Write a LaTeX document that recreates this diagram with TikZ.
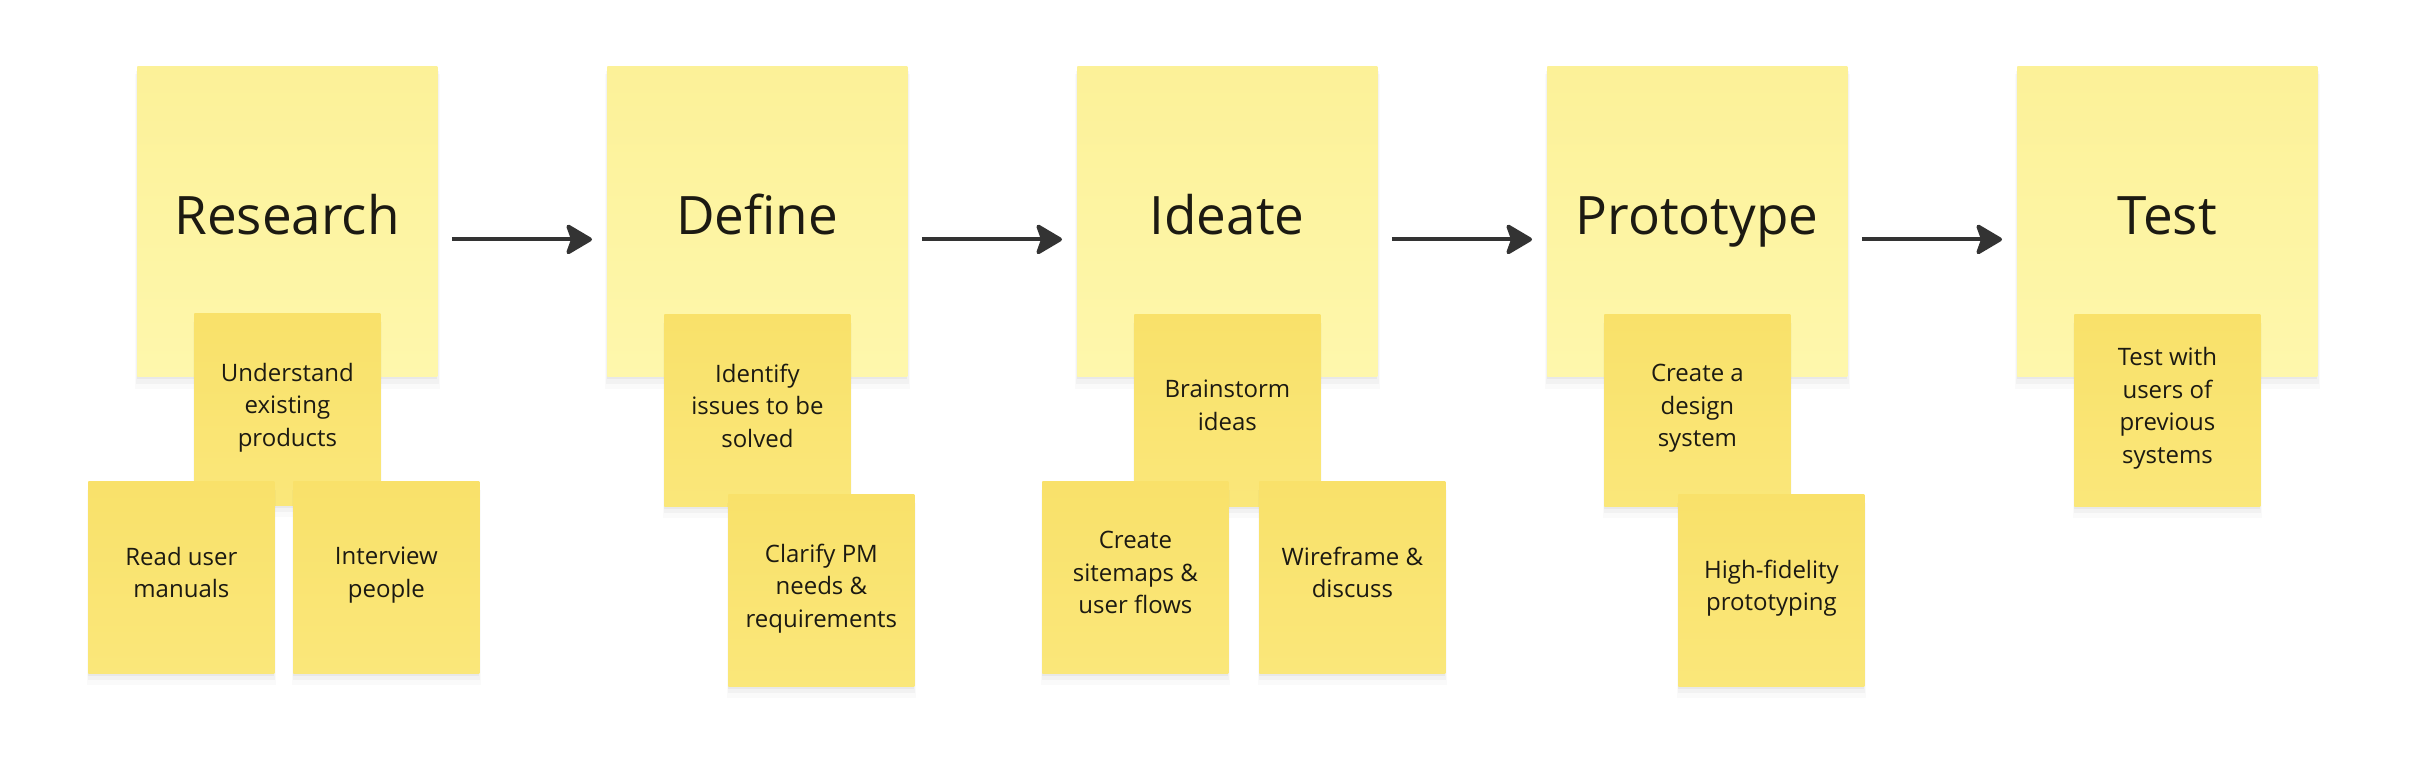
\documentclass[tikz,border=0pt]{standalone}
\usepackage{fontspec}
\setmainfont{Open Sans}
\usetikzlibrary{arrows.meta,shadows}
\definecolor{bigtop}{RGB}{252,241,152}
\definecolor{bigbot}{RGB}{254,247,172}
\definecolor{smtop}{RGB}{249,225,106}
\definecolor{smbot}{RGB}{250,231,122}
\definecolor{arrowc}{RGB}{51,51,51}
\definecolor{txt}{RGB}{28,26,18}
\begin{document}
\begin{tikzpicture}[x=0.5pt,y=-0.5pt,
  softsh/.style={
    general shadow={fill=black,opacity=0.02,shadow yshift=-5pt,shadow scale=1.015},
    general shadow={fill=black,opacity=0.03,shadow yshift=-3pt,shadow scale=1.008},
    general shadow={fill=black,opacity=0.04,shadow yshift=-1.5pt}},
  bignote/.style={softsh, rectangle, inner sep=0pt, anchor=north west,
    minimum width=150pt, minimum height=155pt, top color=bigtop, bottom color=bigbot},
  smallnote/.style={softsh, rectangle, inner sep=0pt, anchor=north west,
    minimum width=93pt, minimum height=96pt, top color=smtop, bottom color=smbot,
    align=center, font=\fontsize{12}{16.25}\selectfont, text=txt, text depth=5pt},
  title/.style={anchor=base, font=\fontsize{26.5}{30}\selectfont, text=txt, inner sep=0pt},
  arr/.style={draw=arrowc, line width=2pt,
    -{Stealth[length=14.5pt,width=17pt,inset=3pt,round]},
    shorten <=7pt, shorten >=7.5pt}]
\fill[white] (0,0) rectangle (2420,778);
\useasboundingbox (0,0) rectangle (2420,778);

% big notes
\node[bignote] (b1) at (137,66) {};
\node[bignote] (b2) at (607,66) {};
\node[bignote] (b3) at (1077,66) {};
\node[bignote] (b4) at (1547,66) {};
\node[bignote] (b5) at (2017,66) {};

\node[title] (t1) at (287,234) {Research};
\node[title] (t2) at (757,234) {Define};
\node[title] (t3) at (1227,234) {Ideate};
\node[title] (t4) at (1697,234) {Prototype};
\node[title] (t5) at (2167,234) {Test};

% arrows
\draw[arr] ([yshift=-9pt]b1.east) -- ([yshift=-9pt]b2.west);
\draw[arr] ([yshift=-9pt]b2.east) -- ([yshift=-9pt]b3.west);
\draw[arr] ([yshift=-9pt]b3.east) -- ([yshift=-9pt]b4.west);
\draw[arr] ([yshift=-9pt]b4.east) -- ([yshift=-9pt]b5.west);

% research
\node[smallnote] (s1a) at (194,313) {Understand\\existing\\products};
\node[smallnote] (s1b) at (88,481) {Read user\\manuals};
\node[smallnote] (s1c) at (293,481) {Interview\\people};
% define
\node[smallnote] (s2a) at (664,314) {Identify\\issues to be\\solved};
\node[smallnote] (s2b) at (728,494) {Clarify PM\\needs \&\\requirements};
% ideate
\node[smallnote] (s3a) at (1134,314) {Brainstorm\\ideas};
\node[smallnote] (s3b) at (1042,481) {Create\\sitemaps \&\\user flows};
\node[smallnote] (s3c) at (1259,481) {Wireframe \&\\discuss};
% prototype
\node[smallnote] (s4a) at (1604,314) {Create a\\design\\system};
\node[smallnote] (s4b) at (1678,494) {High-fidelity\\prototyping};
% test
\node[smallnote] (s5a) at (2074,314) {Test with\\users of\\previous\\systems};
\end{tikzpicture}
\end{document}
